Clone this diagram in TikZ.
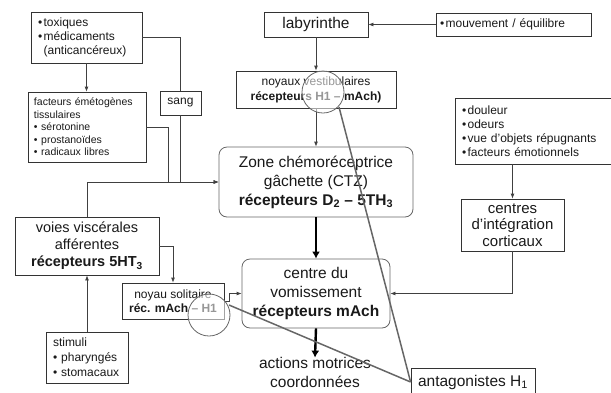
\documentclass[tikz,border=0pt]{standalone}
\usepackage{fontspec}
\setmainfont{Liberation Sans}
\usetikzlibrary{arrows.meta}
\newcommand{\bl}{\textbullet\hspace{0.12em}}
\begin{document}
\begin{tikzpicture}[x=1pt,y=-1pt,
  box/.style={draw=black!80, line width=0.8pt, inner sep=0pt, align=center, text=black!90},
  rbox/.style={box, draw=black!60, rounded corners=8pt},
  big/.style={font=\fontsize{15.5}{19}\selectfont},
  mid/.style={font=\fontsize{14.5}{17}\selectfont},
  small/.style={font=\fontsize{12}{14}\selectfont},
  tiny/.style={font=\fontsize{10.5}{12.5}\selectfont},
  conn/.style={draw=black!75, line width=0.8pt},
  arr/.style={conn, -{Latex[length=5pt,width=4pt]}},
  thick arr/.style={draw=black, line width=2.4pt, -{Latex[length=7pt,width=8pt]}},
  lens/.style={circle, draw=black!60, line width=0.8pt, fill=white, fill opacity=0.55, minimum size=42pt, inner sep=0pt},
  handle/.style={draw=black!60, line width=1.5pt}
]
\useasboundingbox (0,0) rectangle (611,392);
\clip (0,0) rectangle (611,392);

% boxes
\node[box, small, align=left, text width=97pt, inner xsep=7pt, minimum height=51pt] (tox) at (86.5,37.5)
  {\bl toxiques\\\bl médicaments\\\phantom{\bl}(anticancéreux)};
\node[box, tiny, align=left, text width=106pt, inner xsep=6pt, minimum height=70pt] (fac) at (87,127)
  {facteurs émétogènes\\tissulaires\\\textbullet{} sérotonine\\\textbullet{} prostanoïdes\\\textbullet{} radicaux libres};
\node[box, small, minimum width=41pt, minimum height=24pt] (sang) at (180.5,103) {sang};
\node[box, big, minimum width=104pt, minimum height=25pt] (lab) at (316,24.5) {labyrinthe};
\node[box, small, align=left, text width=147pt, inner xsep=4pt, minimum height=23pt] (mouv) at (513.5,24.5)
  {\bl mouvement / équilibre};
\node[box, font=\fontsize{12}{15}\selectfont, minimum width=160pt, minimum height=37pt] (vest) at (316,89.5)
  {noyaux vestibulaires\\\textbf{récepteurs H1 – mAch)}};
\node[box, small, align=left, text width=142pt, inner xsep=7pt, minimum height=66pt] (doul) at (533,131)
  {\bl douleur\\\bl odeurs\\\bl vue d'objets répugnants\\\bl facteurs émotionnels};
\node[box, font=\fontsize{15}{16.5}\selectfont, minimum width=103pt, minimum height=52pt] (cort) at (512.5,225)
  {centres\\d'intégration\\corticaux};
\node[rbox, big, minimum width=194pt, minimum height=70pt] (ctz) at (316,182)
  {Zone chémoréceptrice\\gâchette (CTZ)\\\textbf{récepteurs D\textsubscript{2} – 5TH\textsubscript{3}}};
\node[box, mid, minimum width=144pt, minimum height=58pt] (voies) at (87,246)
  {voies viscérales\\afférentes\\\textbf{récepteurs 5HT\textsubscript{3}}};
\node[box, font=\fontsize{12}{14}\selectfont, minimum width=102pt, minimum height=36pt] (sol) at (173,301)
  {noyau solitaire\\\textbf{réc. mAch – H1}};
\node[box, font=\fontsize{12}{15}\selectfont, align=left, text width=68pt, inner xsep=7pt, minimum height=51pt] (stim) at (87,357.5)
  {stimuli\\\textbullet{} pharyngés\\\textbullet{} stomacaux};
\node[rbox, big, minimum width=148pt, minimum height=69pt] (vom) at (316,293.5)
  {centre du\\vomissement\\\textbf{récepteurs mAch}};
\node[big, align=center, inner sep=0pt, text=black!90] (act) at (315,372) {actions motrices\\coordonnées};
\node[box, big, minimum width=124pt, minimum height=28pt] (ant) at (473,382) {antagonistes H\textsubscript{1}};

% junction point of the tissue input
\coordinate (jfac) at (168,182);

% connectors
\draw[arr] (tox.south) -- (tox.south |- fac.north);
\draw[conn] (tox.east) -| (sang.north);
\draw[arr] (sang.south) |- (ctz.west);
\draw[conn] (fac.east) -| (jfac);
\draw[arr] (voies.north) |- (ctz.west);
\draw[arr] (stim.north) -- (voies.south);
\draw[arr] (lab.south) -- (vest.north);
\draw[arr] (mouv.west) -- (lab.east);
\draw[arr] (vest.south) -- (ctz.north);
\draw[thick arr] (ctz.south) -- (vom.north);
\draw[thick arr] (vom.south) -- ([yshift=-1pt]act.north);
\draw[arr] (doul.south -| cort.north) -- (cort.north);
\draw[arr] (cort.south) |- (vom.east);
\draw[arr] (voies.east) -| (sol.north);
\draw[arr] (sol.east) -- ++(5,0) |- (vom.west);

% magnifying lenses
\node[lens] (mag1) at (323,92) {};
\node[lens] (mag2) at (209,315) {};
\coordinate (h1) at (339,107);
\coordinate (h2) at (229,305);
\draw[handle] (h1) -- (ant.west);
\draw[handle] (h2) -- (ant.west);
\end{tikzpicture}
\end{document}
